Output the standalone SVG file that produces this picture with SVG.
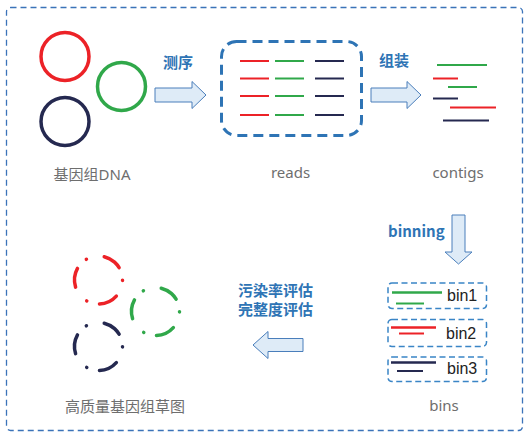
<svg xmlns="http://www.w3.org/2000/svg" width="525" height="432" viewBox="0 0 525 432">
<style>
.lbl{font-family:"Noto Sans","Noto Sans CJK SC",sans-serif;font-size:15px;fill:#6e6e6e;text-anchor:middle}
.act{font-family:"Noto Sans CJK SC","Noto Sans",sans-serif;font-size:15px;font-weight:bold;fill:#2E74B5}
.bin{font-family:"Liberation Sans",Arial,sans-serif;font-size:16px;fill:#222}
.arrow{fill:#DEEBF7;stroke:#4A7EBB;stroke-width:1}
.ring{fill:none;stroke-width:3.5}
.dring{fill:none;stroke-width:3.5;stroke-linecap:round;stroke-dasharray:19 13 0.1 18.2}
.r{stroke:#EC2227}.g{stroke:#30A84A}.n{stroke:#252950}
.ln{stroke-width:2}
.bx{fill:none;stroke:#3A85C6;stroke-width:1.5;stroke-dasharray:6 3.5}
</style>
<rect x="6.5" y="7.5" width="516" height="423" rx="4" fill="none" stroke="#3B73B9" stroke-width="1.3" stroke-dasharray="6 4"/>
<g id="genomic-dna">
<circle class="ring r" cx="65" cy="56.5" r="24"/>
<circle class="ring g" cx="121.5" cy="86.5" r="24"/>
<circle class="ring n" cx="65" cy="121.5" r="24"/>
<text class="lbl" x="92" y="180">基因组DNA</text>
</g>
<g id="reads">
<rect x="221.5" y="41.5" width="140" height="94" rx="15" fill="none" stroke="#2E74B5" stroke-width="3" stroke-dasharray="10 6"/>
<g class="ln">
<line class="r" x1="240" y1="61" x2="269" y2="61"/><line class="g" x1="275" y1="61" x2="304" y2="61"/><line class="n" x1="315" y1="61" x2="344" y2="61"/>
<line class="r" x1="240" y1="78.5" x2="269" y2="78.5"/><line class="g" x1="275" y1="78.5" x2="304" y2="78.5"/><line class="n" x1="315" y1="78.5" x2="344" y2="78.5"/>
<line class="r" x1="240" y1="96" x2="269" y2="96"/><line class="g" x1="275" y1="96" x2="304" y2="96"/><line class="n" x1="315" y1="96" x2="344" y2="96"/>
<line class="r" x1="240" y1="115" x2="269" y2="115"/><line class="g" x1="275" y1="115" x2="304" y2="115"/><line class="n" x1="315" y1="115" x2="344" y2="115"/>
</g>
<text class="lbl" x="290.5" y="178">reads</text>
</g>
<g id="contigs">
<g class="ln">
<line class="g" x1="437" y1="65" x2="487" y2="65"/>
<line class="r" x1="433" y1="78.5" x2="458" y2="78.5"/>
<line class="g" x1="448" y1="87" x2="477" y2="87"/>
<line class="n" x1="433" y1="98.5" x2="458" y2="98.5"/>
<line class="r" x1="450" y1="107.5" x2="496" y2="107.5"/>
<line class="n" x1="443" y1="120.5" x2="489" y2="120.5"/>
</g>
<text class="lbl" x="458" y="178">contigs</text>
</g>
<g id="bins">
<rect class="bx" x="388" y="283" width="98.5" height="25.5" rx="4"/>
<line class="g" x1="392" y1="292.5" x2="442" y2="292.5" stroke-width="2.5"/>
<line class="g" x1="396" y1="303.5" x2="424" y2="303.5" stroke-width="2"/>
<text class="bin" x="447" y="301">bin1</text>
<rect class="bx" x="388" y="319.5" width="98.5" height="27" rx="4"/>
<line class="r" x1="391" y1="327.5" x2="436" y2="327.5" stroke-width="2.5"/>
<line class="r" x1="399" y1="333.5" x2="424" y2="333.5" stroke-width="2"/>
<text class="bin" x="446" y="338.5">bin2</text>
<rect class="bx" x="388" y="357" width="98.5" height="24.5" rx="4"/>
<line class="n" x1="391" y1="362.5" x2="436" y2="362.5" stroke-width="2.5"/>
<line class="n" x1="397" y1="371" x2="423" y2="371" stroke-width="2"/>
<text class="bin" x="447" y="373.5">bin3</text>
<text class="lbl" x="444" y="411">bins</text>
</g>
<g id="draft-genomes">
<circle class="dring r" cx="98.5" cy="280" r="24" transform="rotate(42 98.5 280)"/>
<circle class="dring g" cx="155.5" cy="311.5" r="24" transform="rotate(42 155.5 311.5)"/>
<circle class="dring n" cx="98.5" cy="346.5" r="24" transform="rotate(42 98.5 346.5)"/>
<text class="lbl" x="125" y="412">高质量基因组草图</text>
</g>
<g id="connectors">
<polygon class="arrow" points="155,88 192,88 192,81.5 206,95 192,108.5 192,102 155,102"/>
<text class="act" x="163" y="68">测序</text>
<polygon class="arrow" points="371,88 407,88 407,81.5 421,95 407,108.5 407,102 371,102"/>
<text class="act" x="379" y="66">组装</text>
<polygon class="arrow" points="452,215 465,215 465,252 472,252 458.5,264 445,252 452,252"/>
<text class="act" x="388" y="237">binning</text>
<polygon class="arrow" points="303,338.5 268,338.5 268,331.5 253,345 268,358.5 268,351.5 303,351.5"/>
<text class="act" x="238" y="296">污染率评估</text>
<text class="act" x="238" y="315">完整度评估</text>
</g>
</svg>
